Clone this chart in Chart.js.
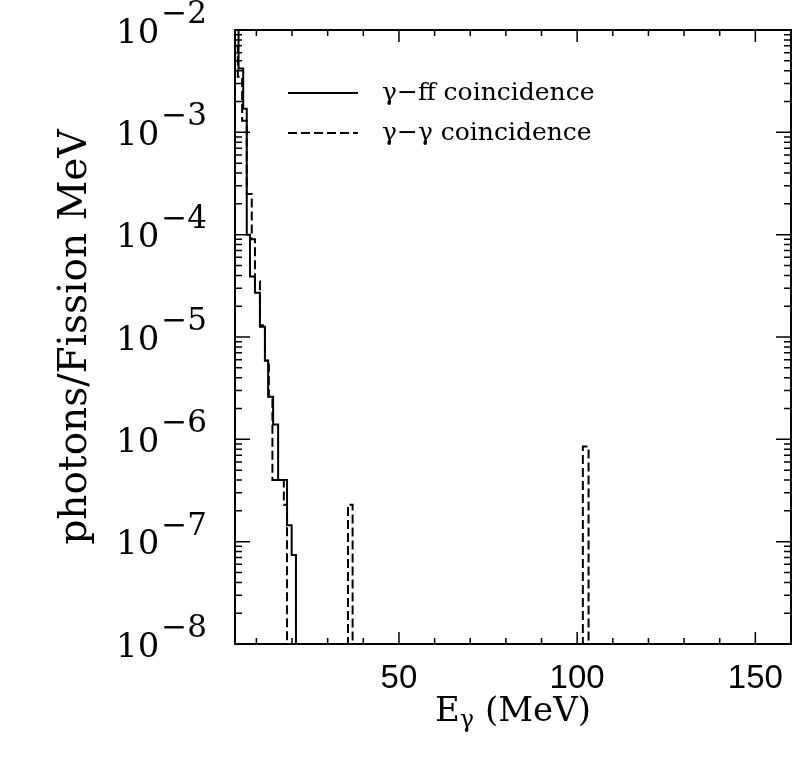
<!DOCTYPE html>
<html>
<head>
<meta charset="utf-8">
<script src="https://cdn.jsdelivr.net/npm/chart.js@4.4.1/dist/chart.umd.min.js"></script>
<style>
  html, body { margin: 0; padding: 0; background: #fff; }
  #wrap { width: 793px; height: 757px; }
</style>
</head>
<body>
<div id="wrap"><canvas id="grafico" width="793" height="757"></canvas></div>
<script>
// gamma-ff coincidence: bin edges (MeV) and photons/fission MeV per bin
const ffEdges = [4.1, 5.0, 6.3, 7.3, 8.2, 9.6, 11.0, 12.4, 13.3, 14.7, 16.1, 18.6, 19.9, 21.1];
const ffValues = [1.1e-2, 4.2e-3, 1.7e-3, 1.0e-4, 3.9e-5, 2.7e-5, 1.26e-5, 5.9e-6, 2.6e-6, 1.4e-6, 4.0e-7, 1.45e-7, 7.4e-8];

// gamma-gamma coincidence (0 = empty bin, below the axis)
const ggEdges = [4.1, 4.8, 6.0, 7.3, 8.7, 9.6, 11.0, 12.4, 13.5, 14.5, 17.7, 18.6, 35.7, 37.0, 101.6, 103.2];
const ggValues = [7e-3, 3.5e-3, 1.3e-3, 2.5e-4, 9e-5, 3.5e-5, 1.3e-5, 5.9e-6, 2.6e-6, 4.0e-7, 2.3e-7, 0, 2.3e-7, 0, 8.5e-7];

const xTicks = [10, 20, 30, 40, 50, 60, 70, 80, 90, 100, 110, 120, 130, 140, 150];
const xLabels = [50, 100, 150];
const yExponents = [-2, -3, -4, -5, -6, -7, -8];
const legendLabels = ["\u03b3\u2212ff coincidence", "\u03b3\u2212\u03b3 coincidence"];

const FLOOR = 1e-10; // empty bins drop out of the plot

function passos(edges, values) {
  const pts = [];
  for (let i = 0; i < values.length; i++) {
    pts.push({ x: edges[i], y: values[i] > 0 ? values[i] : FLOOR });
  }
  pts.push({ x: edges[edges.length - 1], y: FLOOR });
  return pts;
}

const SERIF = "'DejaVu Serif', serif";

// frame, inward ticks, y labels with exponents, x title, legend
const moldura = {
  id: "moldura",
  afterDraw(chart) {
    const ctx = chart.ctx;
    const a = chart.chartArea;
    const xs = chart.scales.x;
    const ys = chart.scales.y;
    ctx.save();
    ctx.strokeStyle = "#000";
    ctx.fillStyle = "#000";
    ctx.lineWidth = 2;
    ctx.setLineDash([]);
    ctx.strokeRect(a.left, a.top, a.right - a.left, a.bottom - a.top);

    ctx.lineWidth = 1.5;
    ctx.beginPath();
    yExponents.forEach(function(e) {
      const base = Math.pow(10, e);
      const y = ys.getPixelForValue(base);
      ctx.moveTo(a.left, y); ctx.lineTo(a.left + 15, y);
      ctx.moveTo(a.right, y); ctx.lineTo(a.right - 15, y);
      if (e < -2) {
        for (let m = 2; m <= 9; m++) {
          const ym = ys.getPixelForValue(m * base);
          ctx.moveTo(a.left, ym); ctx.lineTo(a.left + 7, ym);
          ctx.moveTo(a.right, ym); ctx.lineTo(a.right - 7, ym);
        }
      }
    });
    xTicks.forEach(function(v) {
      const x = xs.getPixelForValue(v);
      const len = v % 50 === 0 ? 12 : 6;
      ctx.moveTo(x, a.bottom); ctx.lineTo(x, a.bottom - len);
      ctx.moveTo(x, a.top); ctx.lineTo(x, a.top + len);
    });
    ctx.stroke();

    // y tick labels: 10 with superscript exponent
    ctx.textBaseline = "middle";
    ctx.textAlign = "left";
    yExponents.forEach(function(e) {
      const y = ys.getPixelForValue(Math.pow(10, e));
      const sup = "\u2212" + Math.abs(e);
      ctx.font = "34px " + SERIF;
      const w1 = ctx.measureText("10").width;
      ctx.font = "31px " + SERIF;
      const w2 = ctx.measureText(sup).width;
      const x0 = 207 - w1 - w2 - 2;
      ctx.font = "34px " + SERIF;
      ctx.fillText("10", x0, y + 4);
      ctx.font = "31px " + SERIF;
      ctx.fillText(sup, x0 + w1 + 2, y - 15);
    });

    // x title: E with subscript gamma
    const cx = 513, cy = 712;
    ctx.font = "34px " + SERIF;
    const wE = ctx.measureText("E").width;
    const wR = ctx.measureText(" (MeV)").width;
    ctx.font = "24px " + SERIF;
    const wG = ctx.measureText("\u03b3").width;
    let x = cx - (wE + wG + wR) / 2;
    ctx.font = "34px " + SERIF;
    ctx.fillText("E", x, cy);
    ctx.font = "24px " + SERIF;
    ctx.fillText("\u03b3", x + wE, cy + 9);
    ctx.font = "34px " + SERIF;
    ctx.fillText(" (MeV)", x + wE + wG, cy);

    // legend
    ctx.lineWidth = 2;
    ctx.beginPath();
    ctx.moveTo(288, 93); ctx.lineTo(358, 93);
    ctx.stroke();
    ctx.setLineDash([9, 4]);
    ctx.beginPath();
    ctx.moveTo(288, 133); ctx.lineTo(358, 133);
    ctx.stroke();
    ctx.setLineDash([]);
    ctx.font = "25px " + SERIF;
    ctx.fillText(legendLabels[0], 382, 93);
    ctx.fillText(legendLabels[1], 382, 133);
    ctx.restore();
  }
};

new Chart(document.getElementById("grafico"), {
  type: "line",
  data: {
    datasets: [
      {
        label: legendLabels[0],
        data: passos(ffEdges, ffValues),
        stepped: "before",
        borderColor: "#000",
        borderWidth: 2,
        pointRadius: 0,
        fill: false
      },
      {
        label: legendLabels[1],
        data: passos(ggEdges, ggValues),
        stepped: "before",
        borderColor: "#000",
        borderWidth: 2,
        borderDash: [9, 4],
        pointRadius: 0,
        fill: false
      }
    ]
  },
  options: {
    responsive: false,
    animation: false,
    layout: { padding: { top: 30, right: 2, left: 0, bottom: 0 } },
    plugins: { legend: { display: false }, tooltip: { enabled: false } },
    scales: {
      x: {
        type: "linear",
        min: 4,
        max: 160,
        afterBuildTicks: function(s) { s.ticks = xTicks.map(function(v) { return { value: v }; }); },
        afterFit: function(s) { s.height = 113; },
        grid: { display: false },
        border: { display: false },
        ticks: {
          autoSkip: false,
          maxRotation: 0,
          padding: 7,
          color: "#000",
          font: { family: "'Liberation Sans', Arial, sans-serif", size: 33 },
          callback: function(v) { return xLabels.indexOf(v) >= 0 ? String(v) : ""; }
        }
      },
      y: {
        type: "logarithmic",
        min: 1e-8,
        max: 1e-2,
        afterFit: function(s) { s.width = 235; },
        grid: { display: false },
        border: { display: false },
        ticks: { display: false },
        title: {
          display: true,
          text: "photons/Fission MeV",
          color: "#000",
          font: { family: "'DejaVu Serif', serif", size: 39 },
          padding: { top: 52 }
        }
      }
    }
  },
  plugins: [moldura]
});
</script>
</body>
</html>
